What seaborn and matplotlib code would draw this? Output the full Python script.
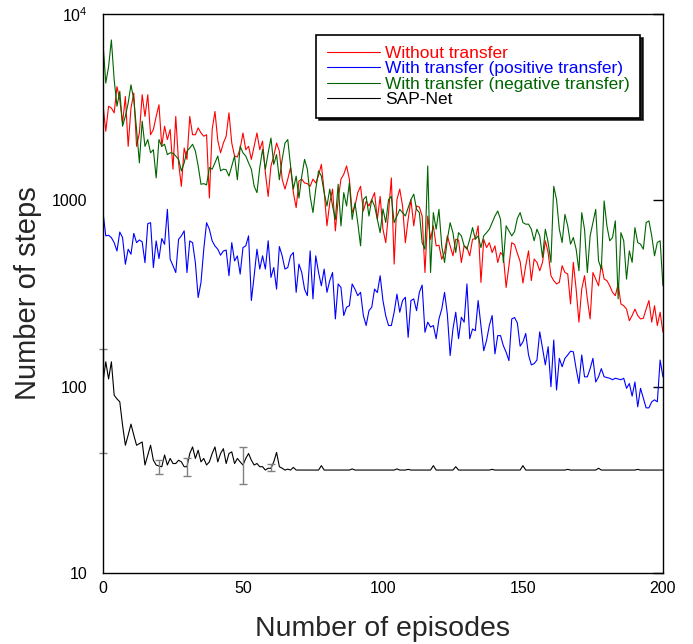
import matplotlib

matplotlib.use("Agg")
import matplotlib.pyplot as plt  # noqa: E402
import pandas as pd  # noqa: E402
import seaborn as sns  # noqa: E402
from matplotlib.ticker import FixedLocator, NullLocator  # noqa: E402

# episode index 0..200
EPISODES = list(range(201))

WITHOUT_TRANSFER = [
    3260, 2350, 3200, 3130, 2950, 4080, 3470, 2600, 3610, 1950,
    3130, 3770, 1950, 2300, 3690, 2820, 3690, 2250, 2400, 2820,
    3260, 1950, 2500, 2120, 2400, 1470, 2820, 1590, 1190, 1910,
    1660, 2820, 2250, 2250, 2450, 2300, 2210, 2250, 1030, 2400,
    3000, 2100, 1800, 2030, 2210, 2950, 2030, 1730, 1710, 1900,
    2300, 1870, 1950, 1660, 1950, 2300, 1870, 2080, 1410, 1050,
    1530, 1730, 2030, 1840, 1300, 1150, 1300, 1500, 1100, 914,
    1270, 1300, 1240, 1230, 1190, 1300, 1240, 1360, 1560, 1120,
    730, 970, 1150, 686, 1010, 1300, 1380, 1530, 1300, 860,
    933, 1100, 1190, 877, 990, 933, 1010, 1100, 790, 1050,
    700, 593, 860, 1320, 455, 1010, 1150, 933, 593, 790,
    1010, 730, 933, 920, 824, 410, 824, 618, 730, 570,
    575, 483, 525, 645, 570, 504, 618, 612, 464, 570,
    558, 504, 618, 624, 730, 363, 618, 558, 593, 525,
    570, 464, 525, 504, 341, 446, 593, 580, 520, 470,
    360, 446, 536, 371, 484, 465, 419, 465, 607, 525,
    394, 371, 356, 363, 446, 410, 403, 278, 465, 334,
    222, 334, 394, 296, 231, 410, 378, 348, 455, 378,
    371, 348, 321, 308, 356, 278, 272, 261, 226, 241,
    261, 241, 231, 233, 261, 290, 222, 272, 213, 251,
    196,
]

POSITIVE_TRANSFER = [
    865, 645, 650, 631, 593, 535, 676, 631, 454, 547,
    514, 665, 593, 613, 599, 463, 750, 759, 436, 606,
    487, 624, 581, 895, 483, 446, 410, 618, 645, 686,
    410, 606, 593, 463, 301, 362, 547, 759, 700, 606,
    569, 547, 508, 535, 541, 394, 593, 473, 503, 402,
    558, 570, 645, 290, 394, 547, 428, 504, 428, 607,
    386, 436, 334, 565, 504, 428, 436, 504, 525, 321,
    455, 410, 334, 308, 536, 296, 504, 410, 348, 428,
    321, 371, 410, 231, 356, 341, 241, 267, 272, 356,
    334, 308, 321, 241, 213, 256, 267, 334, 320, 394,
    290, 240, 213, 213, 251, 314, 251, 290, 302, 184,
    290, 296, 256, 321, 351, 196, 222, 209, 213, 181,
    231, 261, 321, 245, 147, 204, 251, 181, 236, 222,
    356, 181, 204, 200, 290, 213, 156, 177, 213, 241,
    150, 188, 188, 166, 153, 138, 231, 235, 220, 165,
    174, 193, 148, 131, 133, 139, 197, 160, 131, 164,
    100, 178, 96, 142, 128, 142, 148, 155, 154, 125,
    104, 148, 113, 113, 125, 142, 106, 113, 125, 113,
    112, 111, 109, 111, 110, 109, 111, 98, 104, 89,
    106, 78, 98, 87, 77, 77, 83, 85, 83, 139,
    113,
]

NEGATIVE_TRANSFER = [
    7030, 4260, 5220, 7260, 4440, 3200, 3850, 2500, 2830, 3330,
    4170, 3470, 2400, 1590, 2660, 1950, 2120, 1800, 1870, 1320,
    2120, 1950, 2000, 1760, 1800, 1790, 1730, 1660, 1440, 1590,
    1840, 1910, 2000, 1840, 1530, 1220, 1230, 1210, 1500, 1470,
    1590, 1730, 1440, 1470, 1460, 1350, 1530, 1730, 1290, 1950,
    1800, 1730, 1590, 1470, 1190, 1100, 1500, 1880, 1470, 1800,
    2160, 1560, 1760, 1290, 1660, 2030, 2120, 1530, 1150, 1350,
    1030, 1350, 1660, 1470, 1050, 860, 1150, 1440, 1350, 1100,
    933, 1150, 933, 790, 1220, 729, 1100, 933, 1240, 790,
    970, 759, 570, 1010, 1050, 824, 1010, 933, 790, 671,
    900, 760, 1010, 1050, 759, 824, 895, 860, 824, 914,
    1010, 1080, 895, 860, 593, 547, 1530, 410, 860, 700,
    895, 570, 464, 618, 759, 671, 525, 671, 645, 570,
    547, 618, 714, 618, 645, 558, 645, 671, 700, 759,
    824, 877, 790, 464, 730, 686, 645, 680, 800, 860,
    760, 745, 745, 700, 607, 700, 645, 494, 700, 594,
    465, 1190, 1010, 700, 594, 841, 729, 582, 632, 547,
    419, 859, 700, 410, 645, 760, 895, 474, 428, 993,
    729, 607, 632, 776, 296, 671, 607, 378, 536, 465,
    714, 594, 582, 547, 760, 776, 645, 504, 594, 607,
    348,
]

SAP_NET = [
    106, 136, 110, 136, 90, 86, 83, 62, 48.5, 55,
    63, 55, 48.5, 49.5, 50.5, 38, 43, 48.5, 40.3, 38,
    37.5, 37.2, 43, 38, 41.2, 38.7, 38.7, 40.3, 39.5, 37.2,
    37.2, 43.8, 47.5, 41.2, 45.6, 39.5, 41.2, 38, 39.5, 43.8,
    47.5, 39.5, 43.8, 46.5, 38.7, 43.8, 44.7, 38.7, 41.2, 39.5,
    38, 41.2, 43.8, 40.3, 38, 38.7, 37.2, 37.2, 35.7, 36.5,
    36.5, 39.5, 44.4, 37.2, 36.5, 35.7, 36.1, 35.7, 36.9, 35.7,
    35.7, 35.7, 35.7, 35.7, 35.7, 35.7, 35.7, 35.7, 37.7, 35.7,
    35.7, 35.7, 35.7, 35.7, 35.7, 35.7, 35.7, 35.7, 35.7, 36.2,
    35.7, 35.7, 35.7, 35.7, 35.7, 35.7, 35.7, 35.7, 35.7, 35.7,
    35.7, 35.7, 35.7, 35.7, 35.7, 36.2, 35.7, 35.7, 35.7, 36.0,
    35.7, 35.7, 35.7, 35.7, 35.7, 35.7, 35.7, 35.7, 37.7, 35.7,
    35.7, 35.7, 35.7, 35.7, 35.7, 35.7, 37.2, 35.7, 35.7, 35.7,
    35.7, 35.7, 35.7, 35.7, 35.7, 35.7, 35.7, 35.7, 35.7, 36.0,
    35.7, 35.7, 35.7, 35.7, 35.7, 35.7, 35.7, 35.7, 35.7, 35.7,
    37.7, 35.7, 35.7, 35.7, 35.7, 35.7, 35.7, 35.7, 35.7, 35.7,
    35.7, 35.7, 35.7, 35.7, 35.7, 35.7, 36.0, 35.7, 35.7, 35.7,
    35.7, 35.7, 35.7, 35.7, 35.7, 35.7, 35.7, 36.5, 35.7, 35.7,
    35.7, 35.7, 35.7, 35.7, 35.7, 35.7, 35.7, 35.7, 35.7, 35.7,
    35.7, 36.0, 35.7, 35.7, 35.7, 35.7, 35.7, 35.7, 35.7, 35.7,
    35.7,
]

# SAP-Net spread, drawn as grey error bars
ERR_EPISODES = [0, 20, 30, 50, 60]
ERR_LOW = [44, 34, 33, 30, 35.4]
ERR_HIGH = [160, 40.5, 41.5, 47.5, 38.5]

LABELS = [
    "Without transfer",
    "With transfer (positive transfer)",
    "With transfer (negative transfer)",
    "SAP-Net",
]
PALETTE = {
    LABELS[0]: "#ff0000",
    LABELS[1]: "#0000ff",
    LABELS[2]: "#006400",
    LABELS[3]: "#000000",
}

X_TICKS = [0, 50, 100, 150, 200]
Y_TICKS = [10, 100, 1000, 10000]
Y_TICK_LABELS = ["10", "100", "1000", "$10^4$"]


def build_frame() -> pd.DataFrame:
    """Stack the four curves into one long table."""
    parts = []
    for label, values in zip(
        LABELS, [WITHOUT_TRANSFER, POSITIVE_TRANSFER, NEGATIVE_TRANSFER, SAP_NET]
    ):
        parts.append(pd.DataFrame({"episode": EPISODES, "steps": values, "method": label}))
    return pd.concat(parts, ignore_index=True)


def main() -> None:
    sns.set_style("white")
    plt.rcParams["font.family"] = ["Liberation Sans", "DejaVu Sans"]
    plt.rcParams["mathtext.default"] = "regular"

    fig = plt.figure(figsize=(6.93, 6.44), dpi=100)
    ax = fig.add_axes([0.1486, 0.1102, 0.808, 0.868])

    frame = build_frame()
    sns.lineplot(
        data=frame,
        x="episode",
        y="steps",
        hue="method",
        hue_order=LABELS,
        palette=PALETTE,
        estimator=None,
        sort=False,
        linewidth=0.8,
        ax=ax,
    )

    sap = dict(zip(EPISODES, SAP_NET))
    means = [sap[e] for e in ERR_EPISODES]
    bars = ax.errorbar(
        ERR_EPISODES,
        means,
        yerr=[[m - lo for m, lo in zip(means, ERR_LOW)],
              [hi - m for m, hi in zip(means, ERR_HIGH)]],
        fmt="none",
        ecolor="#808080",
        elinewidth=1.0,
        capsize=3,
        capthick=1.0,
    )
    for artist in bars.lines[1] + bars.lines[2]:
        artist.set_clip_on(False)

    ax.set_yscale("log")
    ax.set_xlim(0, 200)
    ax.set_ylim(10, 10000)
    ax.xaxis.set_major_locator(FixedLocator(X_TICKS))
    ax.yaxis.set_major_locator(FixedLocator(Y_TICKS))
    ax.yaxis.set_minor_locator(NullLocator())
    ax.set_yticklabels(Y_TICK_LABELS)
    ax.tick_params(axis="both", direction="in", length=7, width=1,
                   labelsize=11.5, colors="black")
    ax.tick_params(axis="y", right=True, pad=11)
    ax.tick_params(axis="x", top=False, pad=6)
    for spine in ax.spines.values():
        spine.set_color("black")
        spine.set_linewidth(1.0)

    ax.set_xlabel("Number of episodes", fontsize=20.5, labelpad=14)
    ax.set_ylabel("Number of steps", fontsize=21, labelpad=7)

    legend = ax.legend(
        loc="upper right",
        bbox_to_anchor=(0.959, 0.9624),
        borderaxespad=0,
        fontsize=12.5,
        handlelength=3.05,
        handletextpad=0.3,
        labelspacing=0.02,
        borderpad=0.6,
        frameon=True,
        fancybox=False,
        edgecolor="black",
        shadow={"color": "black", "alpha": 0.85},
    )
    legend.get_frame().set_linewidth(1.2)
    for text, label in zip(legend.get_texts(), LABELS):
        text.set_color(PALETTE[label])

    fig.savefig("out.png", dpi=100)
    plt.close(fig)


if __name__ == "__main__":
    main()
